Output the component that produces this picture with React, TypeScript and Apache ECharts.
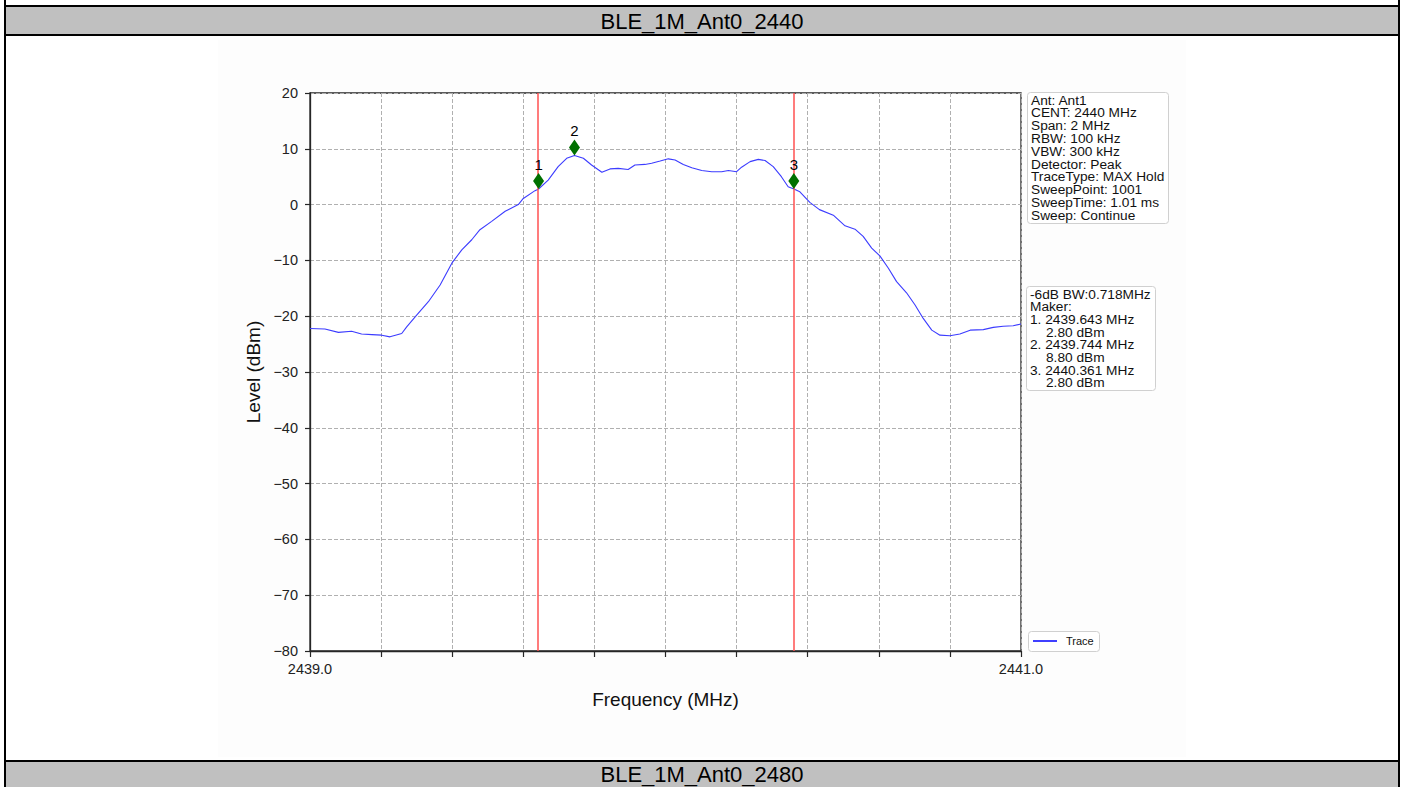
import React, { useEffect, useRef } from "react";
import * as echarts from "echarts";

// Spectrum trace (MHz, dBm)
const freqMHz = [
  2439.0, 2439.042, 2439.08, 2439.117, 2439.145, 2439.174, 2439.202, 2439.225, 2439.258, 2439.272,
  2439.3, 2439.333, 2439.366, 2439.399, 2439.427, 2439.455, 2439.478, 2439.511, 2439.549, 2439.586,
  2439.6, 2439.633, 2439.643, 2439.67, 2439.698, 2439.722, 2439.744, 2439.769, 2439.792, 2439.821,
  2439.844, 2439.867, 2439.895, 2439.914, 2439.942, 2439.961, 2439.985, 2440.008, 2440.027, 2440.05,
  2440.074, 2440.102, 2440.13, 2440.158, 2440.177, 2440.2, 2440.214, 2440.238, 2440.261, 2440.28,
  2440.303, 2440.326, 2440.345, 2440.361, 2440.378, 2440.406, 2440.433, 2440.472, 2440.505, 2440.533,
  2440.556, 2440.58, 2440.603, 2440.627, 2440.65, 2440.678, 2440.702, 2440.725, 2440.749, 2440.772,
  2440.8, 2440.828, 2440.857, 2440.894, 2440.922, 2440.95, 2440.978, 2441.0,
];
const levelDbm = [
  -22.2, -22.3, -22.9, -22.7, -23.2, -23.3, -23.4, -23.7, -23.1, -21.9,
  -19.8, -17.4, -14.4, -10.5, -8.1, -6.3, -4.5, -3.0, -1.2, 0.0,
  1.1, 2.5, 2.8, 4.4, 6.8, 8.3, 8.8, 8.3, 7.1, 5.8,
  6.4, 6.5, 6.3, 7.1, 7.2, 7.4, 7.8, 8.2, 8.0, 7.2,
  6.6, 6.1, 5.9, 5.9, 6.1, 5.9, 6.7, 7.7, 8.1, 7.9,
  6.8, 5.0, 3.2, 2.8, 2.3, 0.4, -0.9, -1.9, -3.8, -4.4,
  -5.7, -7.8, -9.2, -11.4, -13.8, -15.8, -18.0, -20.4, -22.5, -23.4,
  -23.5, -23.2, -22.5, -22.4, -22.0, -21.8, -21.7, -21.4,
];

// Markers
const markerNames = ["1", "2", "3"];
const markerFreqMHz = [2439.643, 2439.744, 2440.361];
const markerLevelDbm = [2.8, 8.8, 2.8];
const bandwidthMHz = 0.718;

// Axes
const freqMin = 2439.0;
const freqMax = 2441.0;
const freqStep = 0.2;
const levelMin = -80;
const levelMax = 20;
const levelStep = 10;
const freqTickLabels = ["2439.0", "2441.0"];

// Analyzer settings
const setupLines = [
  "Ant: Ant1",
  "CENT: 2440 MHz",
  "Span: 2 MHz",
  "RBW: 100 kHz",
  "VBW: 300 kHz",
  "Detector: Peak",
  "TraceType: MAX Hold",
  "SweepPoint: 1001",
  "SweepTime: 1.01 ms",
  "Sweep: Continue",
];

const sectionTitles = ["BLE_1M_Ant0_2440", "BLE_1M_Ant0_2480"];
const traceName = "Trace";

const FONT = "'Liberation Sans', Arial, Helvetica, sans-serif";

function textEl(text: string, x: number, y: number, size: number, extra: any = {}) {
  return {
    type: "text",
    x,
    y,
    silent: true,
    z: 20,
    style: {
      text,
      x: 0,
      y: 0,
      fontSize: size,
      fontFamily: FONT,
      fill: extra.fill || "#111",
      textAlign: extra.align || "left",
      align: extra.align || "left",
      textVerticalAlign: "middle",
      verticalAlign: "middle",
    },
    ...extra.el,
  };
}

export default function App() {
  const ref = useRef<HTMLDivElement>(null);

  useEffect(() => {
    if (!ref.current) return;
    const chart = echarts.init(ref.current, undefined, { renderer: "svg", width: 1405, height: 787 });

    const trace = freqMHz.map((f, i) => [f, levelDbm[i]]);
    const markers = markerFreqMHz.map((f, i) => ({ value: [f, markerLevelDbm[i]], name: markerNames[i] }));

    const markerLines = [
      `-6dB BW:${bandwidthMHz.toFixed(3)}MHz`,
      "Maker:",
    ];
    const markerIndent: number[] = [0, 0];
    markerFreqMHz.forEach((f, i) => {
      markerLines.push(`${markerNames[i]}. ${f.toFixed(3)} MHz`);
      markerIndent.push(0);
      markerLines.push(`${markerLevelDbm[i].toFixed(2)} dBm`);
      markerIndent.push(1);
    });

    const lineH = 12.8;
    const graphics: any[] = [
      // figure background
      { type: "rect", z: -10, silent: true, shape: { x: 218, y: 40, width: 968, height: 717 }, style: { fill: "#fdfdfd" } },
      // section header bars
      { type: "rect", z: 5, silent: true, shape: { x: 5, y: 6, width: 1394, height: 29 }, style: { fill: "#c0c0c0", stroke: "#000", lineWidth: 2 } },
      { type: "rect", z: 5, silent: true, shape: { x: 5, y: 761, width: 1394, height: 40 }, style: { fill: "#c0c0c0", stroke: "#000", lineWidth: 2 } },
      // outer frame sides
      { type: "line", z: 6, silent: true, shape: { x1: 5, y1: 0, x2: 5, y2: 787 }, style: { stroke: "#000", lineWidth: 2 } },
      { type: "line", z: 6, silent: true, shape: { x1: 1399, y1: 0, x2: 1399, y2: 787 }, style: { stroke: "#000", lineWidth: 2 } },
      textEl(sectionTitles[0], 702, 21, 22, { align: "center", fill: "#000" }),
      textEl(sectionTitles[1], 702, 774, 22, { align: "center", fill: "#000" }),
      // analyzer settings box
      { type: "rect", z: 10, silent: true, shape: { x: 1027.5, y: 92.5, width: 141, height: 131, r: 3 }, style: { fill: "#fff", stroke: "#d0d0d0", lineWidth: 1 } },
      ...setupLines.map((t, i) => textEl(t, 1031, 100 + i * lineH, 13.7)),
      // marker readout box
      { type: "rect", z: 10, silent: true, shape: { x: 1026.5, y: 286.5, width: 129, height: 104, r: 3 }, style: { fill: "#fff", stroke: "#d0d0d0", lineWidth: 1 } },
      ...markerLines.map((t, i) => textEl(t, 1030 + markerIndent[i] * 16, 294 + i * 12.7, 13.7)),
      // trace legend
      { type: "rect", z: 10, silent: true, shape: { x: 1028.5, y: 631.5, width: 71, height: 20, r: 3 }, style: { fill: "#fff", stroke: "#d0d0d0", lineWidth: 1 } },
      { type: "line", z: 11, silent: true, shape: { x1: 1033, y1: 641, x2: 1057, y2: 641 }, style: { stroke: "#0000ff", lineWidth: 1.5 } },
      textEl(traceName, 1066, 641, 11),
    ];

    const option: any = {
      animation: false,
      backgroundColor: "#ffffff",
      textStyle: { fontFamily: FONT },
      grid: {
        left: 310,
        top: 93,
        width: 711,
        height: 558,
        show: true,
        backgroundColor: "#ffffff",
        borderColor: "#262626",
        borderWidth: 1.3,
        containLabel: false,
      },
      xAxis: {
        type: "value",
        min: freqMin,
        max: freqMax,
        interval: freqStep,
        name: "Frequency (MHz)",
        nameLocation: "middle",
        nameGap: 39,
        nameTextStyle: { fontSize: 19, color: "#111", fontFamily: FONT },
        axisLine: { show: true, onZero: false, lineStyle: { color: "#262626", width: 1.3 } },
        axisTick: { show: true, length: 6, lineStyle: { color: "#262626", width: 1.2 } },
        axisLabel: {
          show: true,
          margin: 10,
          fontSize: 14.5,
          color: "#222",
          fontFamily: FONT,
          showMinLabel: true,
          showMaxLabel: true,
          formatter: (v: number) => {
            if (Math.abs(v - freqMin) < 1e-6) return freqTickLabels[0];
            if (Math.abs(v - freqMax) < 1e-6) return freqTickLabels[1];
            return "";
          },
        },
        splitLine: { show: true, lineStyle: { color: "#b0b0b0", width: 1, type: [4, 2] } },
      },
      yAxis: {
        type: "value",
        min: levelMin,
        max: levelMax,
        interval: levelStep,
        name: "Level (dBm)",
        nameLocation: "middle",
        nameGap: 46,
        nameTextStyle: { fontSize: 19, color: "#111", fontFamily: FONT },
        axisLine: { show: true, lineStyle: { color: "#262626", width: 1.3 } },
        axisTick: { show: true, length: 5, lineStyle: { color: "#262626", width: 1.2 } },
        axisLabel: {
          margin: 12,
          fontSize: 14.5,
          color: "#222",
          fontFamily: FONT,
          formatter: (v: number) => (v < 0 ? "\u2212" + Math.abs(v) : String(v)),
        },
        splitLine: { show: true, lineStyle: { color: "#b0b0b0", width: 1, type: [4, 2] } },
      },
      series: [
        {
          name: traceName,
          type: "line",
          data: trace,
          showSymbol: false,
          symbol: "none",
          lineStyle: { color: "#3c3cff", width: 1.1 },
          z: 3,
          markLine: {
            silent: true,
            symbol: ["none", "none"],
            label: { show: false },
            lineStyle: { color: "#ff5050", width: 1.5, type: "solid" },
            data: [{ xAxis: markerFreqMHz[0] }, { xAxis: markerFreqMHz[2] }],
          },
        },
        {
          name: "Markers",
          type: "scatter",
          data: markers,
          symbol: "diamond",
          symbolSize: [11, 16],
          symbolOffset: [0, -8],
          itemStyle: { color: "#007000", opacity: 1 },
          z: 5,
          label: {
            show: true,
            position: "top",
            distance: 1,
            formatter: (p: any) => p.name,
            fontSize: 15,
            color: "#000",
            opacity: 1,
            textBorderWidth: 0,
            fontFamily: FONT,
          },
        },
      ],
      graphic: { elements: graphics },
    };

    chart.setOption(option);
    return () => chart.dispose();
  }, []);

  return (
    <div
      ref={ref}
      style={{ position: "fixed", left: 0, top: 0, width: 1405, height: 787, background: "#fff" }}
    />
  );
}
